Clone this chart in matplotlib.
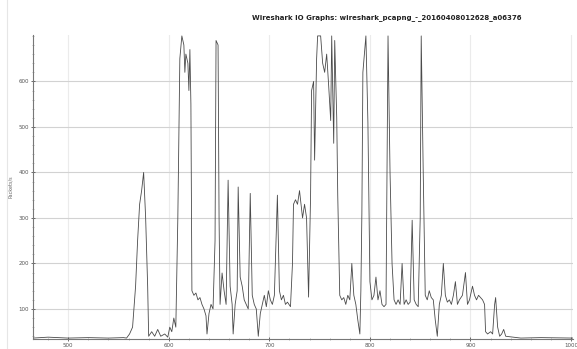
import matplotlib
matplotlib.use("Agg")
import matplotlib.pyplot as plt
from matplotlib.lines import Line2D
from matplotlib.ticker import AutoMinorLocator

# IO graph samples (interval -> packets/s)
t = [465, 480, 500, 520, 540, 555, 558, 561, 564, 567, 569, 571, 573, 575, 577,
     579, 580, 583, 586, 589, 592, 596, 599, 601, 603, 605, 607, 609, 611, 613,
     615, 616, 617, 619, 620, 621, 622, 623, 625, 627, 629, 631, 633, 635, 637,
     638, 640, 642, 644, 646, 647, 649, 650, 651, 653, 655, 657, 659, 661, 663,
     664, 666, 668, 669, 671, 673, 675, 677, 679, 681, 683, 685, 687, 689, 691,
     693, 695, 697, 699, 701, 703, 705, 708, 710, 712, 714, 716, 718, 721, 723,
     724, 726, 728, 730, 732, 733, 735, 737, 739, 741, 742, 744, 745, 747, 748,
     751, 753, 755, 757, 759, 761, 762, 764, 765, 767, 768, 770, 772, 774, 776,
     778, 780, 782, 784, 786, 788, 790, 791, 792, 793, 796, 798, 800, 802, 804,
     806, 808, 810, 812, 814, 816, 818, 820, 822, 824, 826, 828, 830, 832, 834,
     836, 838, 840, 842, 844, 846, 848, 850, 851, 853, 855, 857, 859, 861, 863,
     865, 867, 869, 871, 873, 875, 877, 879, 881, 883, 885, 887, 889, 892, 895,
     897, 899, 902, 904, 906, 908, 910, 912, 914, 915, 917, 920, 922, 924, 925,
     927, 929, 931, 933, 935, 950, 970, 1002]
pkts = [36, 38, 36, 37, 36, 37, 36, 45, 60, 150, 250, 330, 360, 400, 300,
        150, 40, 50, 40, 55, 40, 45, 38, 60, 50, 80, 60, 300, 650, 700,
        680, 620, 660, 640, 580, 670, 550, 140, 130, 135, 120, 125, 110, 100, 85,
        45, 90, 110, 100, 250, 690, 680, 300, 110, 179, 140, 110, 383, 150, 110,
        45, 110, 140, 368, 170, 150, 120, 110, 100, 354, 130, 110, 100, 40, 90,
        110, 130, 105, 140, 120, 110, 130, 350, 140, 120, 130, 110, 115, 105, 200,
        330, 340, 330, 360, 320, 300, 330, 300, 126, 350, 580, 600, 427, 650, 700,
        700, 640, 620, 660, 590, 514, 700, 464, 690, 520, 350, 130, 120, 125, 110,
        130, 120, 200, 130, 110, 75, 45, 140, 310, 620, 700, 510, 160, 120, 130,
        170, 120, 140, 110, 105, 110, 700, 400, 200, 120, 110, 120, 110, 200, 110,
        120, 110, 115, 295, 120, 110, 105, 300, 700, 400, 130, 120, 140, 125, 120,
        75, 40, 110, 130, 200, 130, 115, 120, 110, 130, 160, 110, 120, 130, 180,
        110, 120, 150, 130, 120, 130, 125, 120, 110, 50, 45, 50, 45, 110, 125,
        60, 40, 45, 55, 40, 36, 37, 36]

x_ticks = [500, 600, 700, 800, 900, 1000]
y_ticks = [100, 200, 300, 400, 500, 600]

title = "Wireshark IO Graphs: wireshark_pcapng_-_20160408012628_a06376"

fig = plt.figure(figsize=(5.77, 3.49), dpi=100)
ax = fig.add_axes([0.0572, 0.0287, 0.936, 0.871])

ax.plot(t, pkts, color="#4a4a4a", linewidth=0.6)

ax.set_xlim(465, 1002)
ax.set_ylim(34, 702)
ax.set_xticks(x_ticks)
ax.set_yticks(y_ticks)
ax.xaxis.set_minor_locator(AutoMinorLocator(5))
ax.yaxis.set_minor_locator(AutoMinorLocator(5))
ax.tick_params(axis="both", which="major", labelsize=4, colors="#555555",
               direction="inout", length=3, width=0.6, pad=1.5)
ax.tick_params(axis="both", which="minor", direction="inout", length=1.5,
               width=0.4, colors="#888888")

ax.grid(axis="y", which="major", color="#d2d2d2", linewidth=0.8)
ax.grid(axis="x", which="major", color="#ebebeb", linewidth=0.8)
ax.set_axisbelow(True)

for s in ["top", "right"]:
    ax.spines[s].set_visible(False)
for s in ["left", "bottom"]:
    ax.spines[s].set_color("#777777")
    ax.spines[s].set_linewidth(0.8)

ax.set_ylabel("Packets/s", fontsize=3.5, color="#666666", labelpad=4)
fig.text(0.67, 0.951, title, fontsize=5, fontweight="bold", ha="center",
         va="center", color="#222222")

# faint frame line at the left edge of the widget
fig.add_artist(Line2D([7 / 577, 7 / 577], [0, 1], color="#e6e6e6", linewidth=0.8))

fig.savefig("out.png", dpi=100)
